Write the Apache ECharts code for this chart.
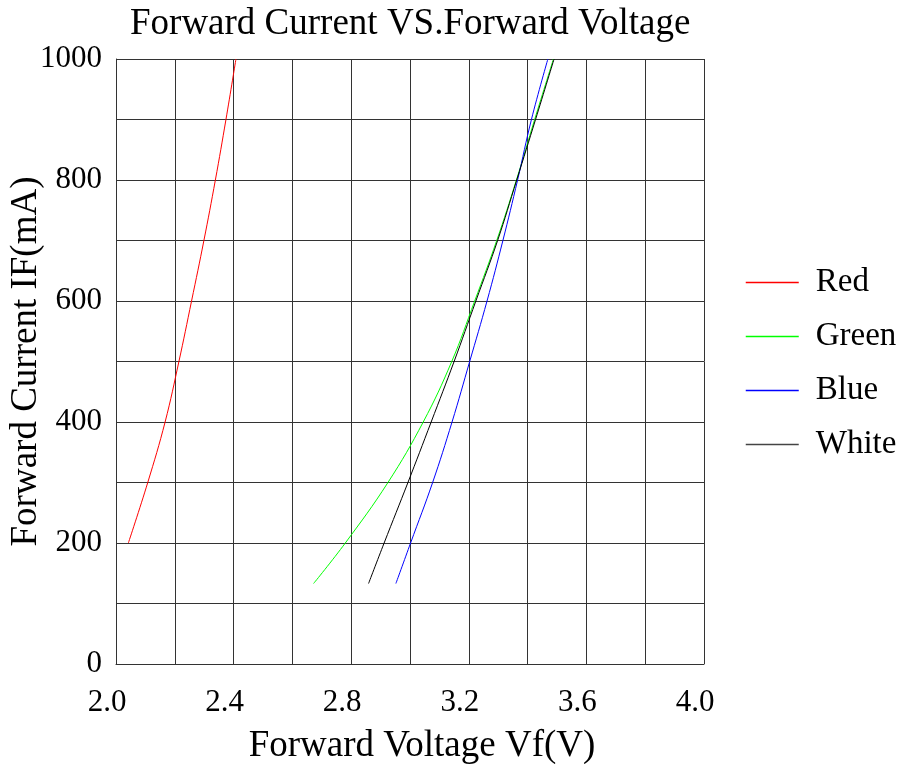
<!DOCTYPE html>
<html>
<head>
<meta charset="utf-8">
<script src="https://cdn.jsdelivr.net/npm/echarts@6/dist/echarts.min.js"></script>
<style>
  html, body { margin: 0; padding: 0; background: #fff; }
  #chart1 { width: 903px; height: 764px; }
</style>
</head>
<body>
<div id="chart1"></div>
<script>
// forward voltage (V), paired with forward current (mA)
var redIf = [200, 300, 400, 500, 600, 700, 800, 900, 1000];
var redVf = [2.042, 2.108, 2.167, 2.214, 2.257, 2.299, 2.338, 2.374, 2.408];

var ledIf = [133, 200, 300, 400, 500, 600, 700, 800, 900, 1000];
var greenVf = [2.672, 2.780, 2.925, 3.045, 3.142, 3.220, 3.295, 3.362, 3.424, 3.488];
var blueVf = [2.952, 3.002, 3.077, 3.143, 3.203, 3.262, 3.316, 3.366, 3.413, 3.469];
var whiteVf = [2.859, 2.912, 2.993, 3.072, 3.150, 3.224, 3.298, 3.363, 3.427, 3.490];

var seriesNames = ["Red", "Green", "Blue", "White"];
var seriesColors = ["#ff0000", "#00ff00", "#0000ff", "#000000"];

var font = "'Liberation Serif', 'DejaVu Serif', serif";

function pairs(vf, cur) {
  return vf.map(function (v, i) { return [v, cur[i]]; });
}

function curve(idx, data) {
  return {
    name: seriesNames[idx],
    type: "line",
    data: data,
    smooth: 0.4,
    symbol: "none",
    lineStyle: { color: seriesColors[idx], width: 1 },
    itemStyle: { color: seriesColors[idx] },
  };
}

var chartDom = document.getElementById("chart1");
var myChart = echarts.init(chartDom);

var option = {
  animation: false,
  title: {
    text: "Forward Current VS.Forward Voltage",
    left: 130,
    top: 6,
    padding: 0,
    textStyle: { fontFamily: font, fontSize: 37, fontWeight: "normal", color: "#000" },
  },
  legend: {
    orient: "vertical",
    left: 740,
    top: 261,
    itemWidth: 53,
    itemHeight: 14,
    itemGap: 21,
    lineStyle: { width: 1.5 },
    itemStyle: { opacity: 0 },
    textStyle: { fontFamily: font, fontSize: 33, color: "#000", padding: [0, 0, 0, 12] },
    data: [
      { name: "Red" },
      { name: "Green" },
      { name: "Blue" },
      { name: "White", lineStyle: { color: "#444" } },
    ],
  },
  grid: { left: 116, right: 199, top: 59, bottom: 100, containLabel: false, outerBoundsMode: "none" },
  xAxis: {
    type: "value",
    min: 2.0,
    max: 4.0,
    interval: 0.2,
    name: "Forward Voltage Vf(V)",
    nameLocation: "middle",
    nameGap: 64,
    nameMoveOverlap: false,
    nameTextStyle: { fontFamily: font, fontSize: 37, color: "#000", padding: [0, 0, 0, 24] },
    axisLine: { show: true, lineStyle: { color: "#333", width: 1 } },
    axisTick: { show: false },
    axisLabel: {
      fontFamily: font,
      fontSize: 31,
      color: "#000",
      margin: 23,
      padding: [0, 18, 0, 0],
      formatter: function (v) {
        return Math.round(v * 10) % 4 === 0 ? v.toFixed(1) : "";
      },
    },
    splitLine: { show: true, lineStyle: { color: "#333", width: 1 } },
  },
  yAxis: {
    type: "value",
    min: 0,
    max: 1000,
    interval: 100,
    name: "Forward Current IF(mA)",
    nameLocation: "middle",
    nameGap: 71,
    nameMoveOverlap: false,
    nameTextStyle: { fontFamily: font, fontSize: 37, color: "#000" },
    axisLine: { show: true, lineStyle: { color: "#333", width: 1 } },
    axisTick: { show: false },
    axisLabel: {
      fontFamily: font,
      fontSize: 31,
      color: "#000",
      margin: 14,
      formatter: function (v) {
        return v % 200 === 0 ? String(v) : "";
      },
    },
    splitLine: { show: true, lineStyle: { color: "#333", width: 1 } },
  },
  series: [
    curve(0, pairs(redVf, redIf)),
    curve(1, pairs(greenVf, ledIf)),
    curve(2, pairs(blueVf, ledIf)),
    curve(3, pairs(whiteVf, ledIf)),
  ],
};

option && myChart.setOption(option);
</script>
</body>
</html>
